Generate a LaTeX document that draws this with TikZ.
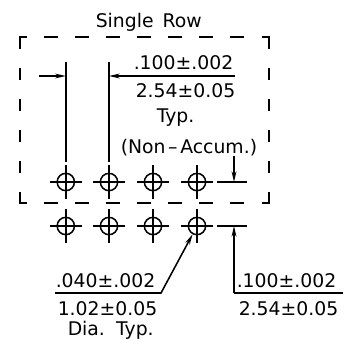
\documentclass[tikz,border=0pt]{standalone}
\usepackage{fontspec}
\setmainfont{DejaVu Sans}
\usetikzlibrary{arrows.meta}
\tikzset{
	dimtext/.style={inner sep=0pt, anchor=base west, font=\fontsize{14.1pt}{15pt}\selectfont},
	hole/.style={circle, draw, inner sep=0pt, minimum size=13pt},
	dashh/.style={dash pattern=on 10.5pt off 12.75pt},
	dashv/.style={dash pattern=on 9pt off 14.25pt}
}
\begin{document}
\begin{tikzpicture}[x=0.75pt,y=-0.75pt,>={Stealth[length=8pt,width=3.6pt]}, line width=1.15pt, line join=miter]
	\useasboundingbox (0,0) rectangle (353,340);
	% text
	\node[dimtext] (title) at (95,27) {Single\, Row};
	\node[dimtext] (topin) at (133,69) {.100±.002};
	\node[dimtext] (topmm) at (135,97) {2.54±0.05};
	\node[dimtext] (toptyp) at (156,122) {Typ.};
	\node[dimtext] (nonacc) at (120,153) {(Non\kern2pt–\kern2pt Accum.)};
	\node[dimtext] (diain) at (55,287) {.040±.002};
	\node[dimtext] (diamm) at (57,315) {1.02±0.05};
	\node[dimtext] (diatyp) at (67,335) {Dia.\, Typ.};
	\node[dimtext] (rowin) at (236,287) {.100±.002};
	\node[dimtext] (rowmm) at (238,315) {2.54±0.05};
	% dashed outline
	\draw (20,49)--(20,37)--(27,37);
	\draw (262,37)--(269,37)--(269,49);
	\draw (20,192)--(20,203)--(27,203);
	\draw (262,203)--(269,203)--(269,192);
	\draw[dashh] (44,37)--(245,37);
	\draw[dashh] (44,203)--(245,203);
	\draw[dashv] (20,68)--(20,174);
	\draw[dashv] (269,68)--(269,174);
	% holes
	\foreach \n/\xc in {1/65.8,2/109,3/153,4/197}{
		\foreach \m/\yc in {1/182,2/226}{
			\node[hole] (h\n\m) at (\xc,\yc) {};
			\draw (\xc-16,\yc)--(\xc+16,\yc);
			\draw (\xc,\yc-17)--(\xc,\yc+17);
		}
	}
	% pitch across the row
	\coordinate (e1top) at (65.8,62);
	\coordinate (e1bot) at (65.8,162);
	\coordinate (e2top) at (109,62);
	\coordinate (e2bot) at (109,162);
	\coordinate (e1arr) at (65.8,76);
	\coordinate (e2arr) at (109,76);
	\coordinate (e1tail) at (39,76);
	\coordinate (e2tail) at (234.5,76);
	\draw (e1top)--(e1bot);
	\draw (e2top)--(e2bot);
	\draw[->] (e1tail)--(e1arr);
	\draw[->] (e2tail)--(e2arr);
	% pitch between the rows
	\coordinate (t1a) at (217,182);
	\coordinate (t1b) at (247,182);
	\coordinate (t2a) at (217,226);
	\coordinate (t2b) at (247,226);
	\coordinate (a1tail) at (234,156);
	\coordinate (a1tip) at (234,182);
	\coordinate (a2tail) at (234,293);
	\coordinate (a2tip) at (234,226);
	\coordinate (rowend) at (343,293);
	\draw (t1a)--(t1b);
	\draw (t2a)--(t2b);
	\draw[->] (a1tail)--(a1tip);
	\draw[->] (a2tail)--(a2tip);
	\draw (a2tail)--(rowend);
	% hole diameter
	\coordinate (diastart) at (55,293);
	\coordinate (diaknee) at (161,293);
	\draw[->] (diastart)--(diaknee)--(h42);
\end{tikzpicture}
\end{document}
